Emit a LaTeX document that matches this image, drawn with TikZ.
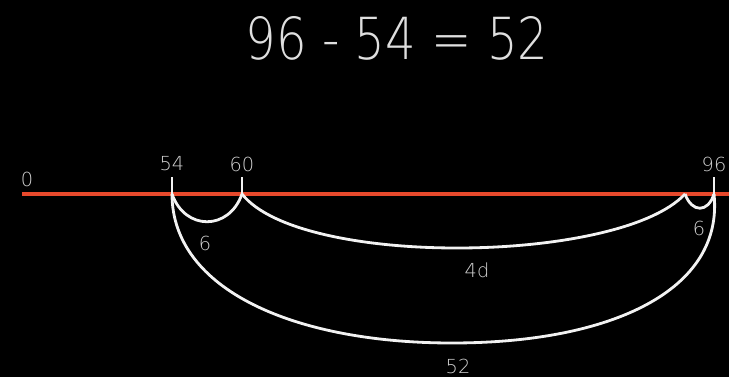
\documentclass[tikz,border=0pt]{standalone}
\usepackage{fontspec}
\setsansfont{DejaVu Sans ExtraLight}
\usetikzlibrary{calc}
\definecolor{nlred}{HTML}{E8492C}
\definecolor{nlink}{HTML}{F2F2F2}
\definecolor{nltext}{HTML}{D0D0D0}
\tikzset{
  numline/.style={draw=nlred,line width=2.6pt},
  tick/.style={draw=nlink,line width=1.6pt},
  jump/.style={draw=nlink,line width=1.6pt},
  numlabel/.style={font=\sffamily\fontsize{11}{11}\selectfont,text=nltext,inner sep=1pt},
  title/.style={font=\sffamily\fontsize{33}{33}\selectfont,text=nlink!92!black},
}
\begin{document}
\begin{tikzpicture}[x=0.02cm,y=-0.02cm]
  \fill[black] (0,0) rectangle (729,377);
  \useasboundingbox (0,0) rectangle (729,377);
  \node[title] (eq) at (397,38) {\scalebox{0.83}[1]{96 - 54 = 52}};
  % number line
  \coordinate (start) at (22,194);
  \coordinate (stop) at (729,194);
  \draw[numline] (start) -- (stop);
  \node[numlabel] (n0) at (27,179) {0};
  \coordinate (p54) at (172,194);
  \coordinate (p60) at (242,194);
  \coordinate (p90) at (685,194);
  \coordinate (p96) at (714,194);
  \coordinate (t54) at (172,177);
  \coordinate (t60) at (242,177);
  \coordinate (t96) at (714,177);
  \coordinate (low) at (452,343);
  \draw[tick] (p54) -- (t54) (p60) -- (t60) (p96) -- (t96);
  \node[numlabel] (n54) at (172,164) {54};
  \node[numlabel] (n60) at (242,164) {60};
  \node[numlabel] (n96) at (714,164) {96};
  % jumps
  \draw[jump] (p54) .. controls (185,231) and (229,231) .. (p60);
  \draw[jump] (p60) .. controls (300,268) and (620,264) .. (p90);
  \draw[jump] (p90) .. controls (692,213) and (708,213) .. (p96);
  \draw[jump] (p54) .. controls (172,290) and (295,343) .. (low)
                    .. controls (612,343) and (724,290) .. (p96);
  \node[numlabel] (l6a) at (205,243) {6};
  \node[numlabel] (l4d) at (477,270) {4d};
  \node[numlabel] (l6b) at (699,228) {6};
  \node[numlabel] (l52) at (458,366) {52};
\end{tikzpicture}
\end{document}
